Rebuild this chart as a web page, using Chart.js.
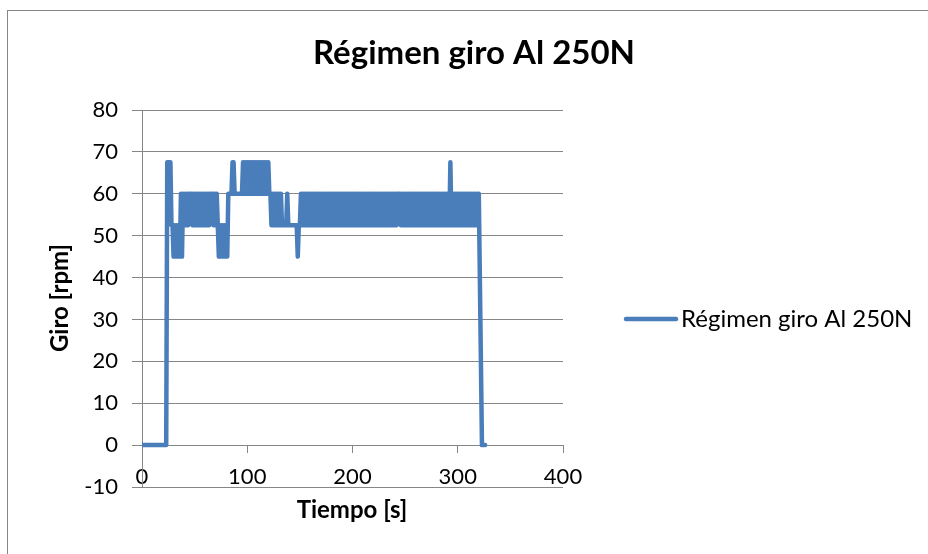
<!DOCTYPE html>
<html>
<head>
<meta charset="utf-8">
<title>Régimen giro Al 250N</title>
<script src="https://cdn.jsdelivr.net/npm/chart.js@4"></script>
<style>
  html, body { margin: 0; padding: 0; background: #fff; }
  canvas { display: block; }
</style>
</head>
<body>
<canvas id="chart" width="928" height="554"></canvas>
<script>
const TITULO = "Régimen giro Al 250N";
const SERIE = "Régimen giro Al 250N";
const EJE_X = "Tiempo [s]";
const EJE_Y = "Giro [rpm]";

const ticksX = [0, 100, 200, 300, 400];
const ticksY = [-10, 0, 10, 20, 30, 40, 50, 60, 70, 80];

const tiempo = [
  0, 1, 2, 3, 4, 5, 6, 7, 8, 9, 10, 11, 12, 13, 14, 15, 16, 17, 18, 19,
  20, 21, 22, 23, 24, 25, 26, 27, 28, 29, 30, 31, 32, 33, 34, 35, 36, 37, 38, 39,
  40, 41, 42, 43, 44, 45, 46, 47, 48, 49, 50, 51, 52, 53, 54, 55, 56, 57, 58, 59,
  60, 61, 62, 63, 64, 65, 66, 67, 68, 69, 70, 71, 72, 73, 74, 75, 76, 77, 78, 79,
  80, 81, 82, 83, 84, 85, 86, 87, 88, 89, 90, 91, 92, 93, 94, 95, 96, 97, 98, 99,
  100, 101, 102, 103, 104, 105, 106, 107, 108, 109, 110, 111, 112, 113, 114, 115, 116, 117, 118, 119,
  120, 121, 122, 123, 124, 125, 126, 127, 128, 129, 130, 131, 132, 133, 134, 135, 136, 137, 138, 139,
  140, 141, 142, 143, 144, 145, 146, 147, 148, 149, 150, 151, 152, 153, 154, 155, 156, 157, 158, 159,
  160, 161, 162, 163, 164, 165, 166, 167, 168, 169, 170, 171, 172, 173, 174, 175, 176, 177, 178, 179,
  180, 181, 182, 183, 184, 185, 186, 187, 188, 189, 190, 191, 192, 193, 194, 195, 196, 197, 198, 199,
  200, 201, 202, 203, 204, 205, 206, 207, 208, 209, 210, 211, 212, 213, 214, 215, 216, 217, 218, 219,
  220, 221, 222, 223, 224, 225, 226, 227, 228, 229, 230, 231, 232, 233, 234, 235, 236, 237, 238, 239,
  240, 241, 242, 243, 244, 245, 246, 247, 248, 249, 250, 251, 252, 253, 254, 255, 256, 257, 258, 259,
  260, 261, 262, 263, 264, 265, 266, 267, 268, 269, 270, 271, 272, 273, 274, 275, 276, 277, 278, 279,
  280, 281, 282, 283, 284, 285, 286, 287, 288, 289, 290, 291, 292, 293, 294, 295, 296, 297, 298, 299,
  300, 301, 302, 303, 304, 305, 306, 307, 308, 309, 310, 311, 312, 313, 314, 315, 316, 317, 318, 319,
  320, 323, 324, 325, 326
];

const giro = [
  0, 0, 0, 0, 0, 0, 0, 0, 0, 0,
  0, 0, 0, 0, 0, 0, 0, 0, 0, 0,
  0, 0, 0, 0, 67.5, 67.5, 67.5, 67.5, 52.5, 52.5,
  45, 52.5, 45, 52.5, 45, 52.5, 45, 60, 45, 60,
  52.5, 60, 52.5, 60, 52.5, 60, 60, 60, 52.5, 60,
  52.5, 60, 52.5, 60, 52.5, 60, 52.5, 60, 52.5, 60,
  52.5, 60, 52.5, 60, 52.5, 60, 60, 60, 52.5, 60,
  52.5, 60, 52.5, 45, 52.5, 45, 52.5, 45, 52.5, 45,
  52.5, 45, 60, 60, 60, 60, 67.5, 67.5, 60, 60,
  60, 60, 60, 60, 60, 60, 67.5, 60, 67.5, 60,
  67.5, 60, 67.5, 60, 67.5, 60, 67.5, 60, 67.5, 60,
  67.5, 60, 67.5, 60, 67.5, 60, 67.5, 60, 67.5, 60,
  67.5, 60, 60, 52.5, 60, 52.5, 60, 52.5, 60, 52.5,
  60, 52.5, 60, 52.5, 52.5, 52.5, 52.5, 52.5, 60, 52.5,
  52.5, 52.5, 52.5, 52.5, 52.5, 52.5, 52.5, 52.5, 45, 52.5,
  52.5, 60, 52.5, 60, 52.5, 60, 52.5, 60, 52.5, 60,
  52.5, 60, 52.5, 60, 52.5, 60, 52.5, 60, 52.5, 60,
  52.5, 60, 52.5, 60, 52.5, 60, 52.5, 60, 52.5, 60,
  52.5, 60, 52.5, 60, 52.5, 60, 52.5, 60, 52.5, 60,
  52.5, 60, 52.5, 60, 52.5, 60, 52.5, 60, 52.5, 60,
  52.5, 60, 52.5, 60, 52.5, 60, 52.5, 60, 52.5, 60,
  52.5, 60, 52.5, 60, 52.5, 60, 52.5, 60, 52.5, 60,
  52.5, 60, 52.5, 60, 52.5, 60, 52.5, 60, 52.5, 60,
  52.5, 60, 52.5, 60, 52.5, 60, 52.5, 60, 52.5, 60,
  52.5, 60, 52.5, 60, 60, 60, 52.5, 60, 52.5, 60,
  52.5, 60, 52.5, 60, 52.5, 60, 52.5, 60, 52.5, 60,
  52.5, 60, 52.5, 60, 52.5, 60, 52.5, 60, 52.5, 60,
  52.5, 60, 52.5, 60, 52.5, 60, 52.5, 60, 52.5, 60,
  52.5, 60, 52.5, 60, 52.5, 60, 52.5, 60, 52.5, 60,
  52.5, 60, 52.5, 67.5, 52.5, 60, 52.5, 60, 52.5, 60,
  52.5, 60, 52.5, 60, 52.5, 60, 52.5, 60, 52.5, 60,
  52.5, 60, 52.5, 60, 52.5, 60, 52.5, 60, 52.5, 60,
  60, 0, 0, 0, 0
];

const AZUL = "#4a7ebb";
const GRIS = "#868686";
const FUENTE = "Lato, 'Open Sans', sans-serif";

// Título, leyenda, títulos de ejes y marco a mano, para dejarlos donde los puso Excel.
const decorado = {
  id: "decorado",
  beforeDraw(chart) {
    const c = chart.ctx;
    c.save();
    c.fillStyle = "#fff";
    c.fillRect(0, 0, chart.width, chart.height);
    c.strokeStyle = GRIS;
    c.lineWidth = 1;
    c.strokeRect(7.5, 10.5, 1000, 1000);
    c.restore();
  },
  afterDraw(chart) {
    const c = chart.ctx;
    c.save();
    c.fillStyle = "#000";
    c.textAlign = "center";
    c.textBaseline = "alphabetic";
    c.font = `bold 33px ${FUENTE}`;
    c.fillText(TITULO, 474, 64);

    c.font = `bold 24px ${FUENTE}`;
    c.fillText(EJE_X, 352, 518);
    c.save();
    c.translate(68, 298);
    c.rotate(-Math.PI / 2);
    c.fillText(EJE_Y, 0, 0);
    c.restore();

    // leyenda
    c.strokeStyle = AZUL;
    c.lineWidth = 4.5;
    c.lineCap = "round";
    c.beginPath();
    c.moveTo(626, 319);
    c.lineTo(676, 319);
    c.stroke();
    c.textAlign = "left";
    c.font = `24px ${FUENTE}`;
    c.fillText(SERIE, 681, 327);
    c.restore();
  },
};

new Chart(document.getElementById("chart"), {
  type: "line",
  data: {
    datasets: [
      {
        label: SERIE,
        data: tiempo.map((t, i) => ({ x: t, y: giro[i] })),
        borderColor: AZUL,
        backgroundColor: AZUL,
        borderWidth: 4.5,
        borderJoinStyle: "round",
        borderCapStyle: "round",
        pointRadius: 0,
        tension: 0,
      },
    ],
  },
  options: {
    responsive: false,
    animation: false,
    layout: { padding: { left: 82, top: 110, right: 365, bottom: 67 } },
    plugins: { legend: { display: false }, title: { display: false }, tooltip: { enabled: false } },
    scales: {
      x: {
        type: "linear",
        position: { y: 0 },
        min: 0,
        max: 400,
        afterBuildTicks: (s) => { s.ticks = ticksX.map((v) => ({ value: v })); },
        afterFit: (s) => { s.paddingLeft = 0; s.paddingRight = 0; },
        grid: { drawOnChartArea: false, drawTicks: true, tickLength: 7, color: GRIS },
        border: { color: GRIS, width: 1 },
        ticks: { color: "#000", padding: 12, maxRotation: 0, font: { family: FUENTE, size: 22 } },
      },
      y: {
        min: -10,
        max: 80,
        afterBuildTicks: (s) => { s.ticks = ticksY.map((v) => ({ value: v })); },
        afterFit: (s) => { s.width = 60; s.paddingTop = 0; s.paddingBottom = 0; },
        grid: { color: GRIS, tickLength: 10 },
        border: { color: GRIS, width: 1 },
        ticks: { color: "#000", padding: 14, font: { family: FUENTE, size: 22 } },
      },
    },
  },
  plugins: [decorado],
});
</script>
</body>
</html>
